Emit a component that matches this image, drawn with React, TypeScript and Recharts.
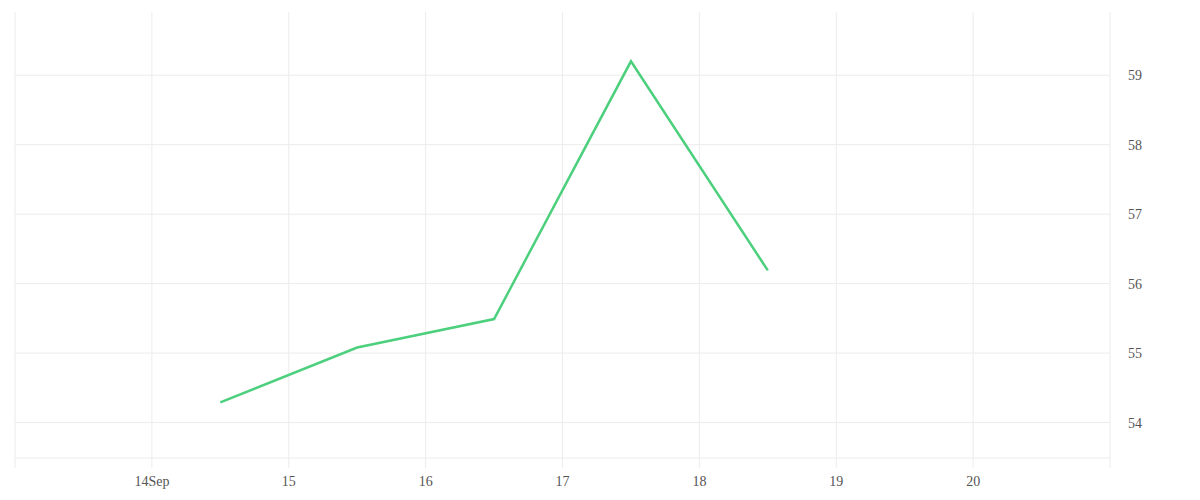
import { CartesianGrid, Line, LineChart, XAxis, YAxis } from "recharts";

const days = [14.5, 15.5, 16.5, 17.5, 18.5];
const values = [54.29, 55.08, 55.49, 59.2, 56.19];
const xTicks = [13, 14, 15, 16, 17, 18, 19, 20, 21];
const xLabels: Record<number, string> = { 14: "14Sep", 15: "15", 16: "16", 17: "17", 18: "18", 19: "19", 20: "20" };
const yTicks = [54, 55, 56, 57, 58, 59];

const chartData = days.map((day, i) => ({ day, value: values[i] }));

export default function App() {
  const gridColor = "#ececec";
  return (
    <LineChart width={1184} height={484} data={chartData} margin={{ top: 4, right: 12, left: 7, bottom: 4 }}>
      <CartesianGrid stroke={gridColor} strokeWidth={1} horizontalValues={yTicks} verticalValues={xTicks} />
      <XAxis
        dataKey="day"
        type="number"
        domain={[13, 21]}
        ticks={xTicks}
        interval={0}
        tickFormatter={(v: number) => xLabels[v] ?? ""}
        stroke={gridColor}
        tickSize={10}
        tickMargin={8}
        height={30}
        tick={{ fill: "#555", fontSize: 14 }}
      />
      <YAxis
        orientation="right"
        domain={[53.49, 59.91]}
        ticks={yTicks}
        allowDataOverflow
        axisLine={false}
        tickLine={false}
        tickMargin={12}
        width={70}
        tick={{ fill: "#555", fontSize: 14, textAnchor: "start" }}
      />
      <Line
        type="linear"
        dataKey="value"
        stroke="#4cd07d"
        strokeWidth={2.5}
        dot={false}
        activeDot={false}
        isAnimationActive={false}
      />
    </LineChart>
  );
}
